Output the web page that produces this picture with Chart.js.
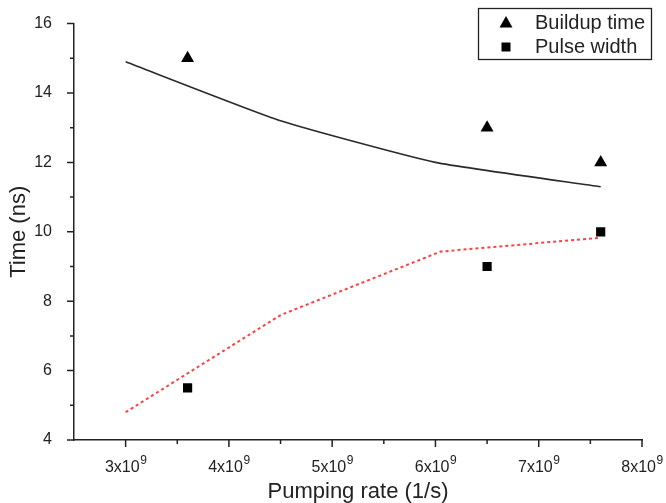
<!DOCTYPE html>
<html>
<head>
<meta charset="utf-8">
<script src="https://cdn.jsdelivr.net/npm/chart.js@4.4.1/dist/chart.umd.min.js"></script>
<style>
  html, body { margin: 0; padding: 0; background: #fff; }
  #wrap { width: 666px; height: 503px; }
</style>
</head>
<body>
<div id="wrap"><canvas id="timeChart" width="666" height="503"></canvas></div>
<script>
// measured points
const rateMeasured = [3.6e9, 6.5e9, 7.6e9];
const buildupTime = [15, 13, 12];
const pulseWidth = [5.5, 9, 10];

// calculated curves
const rateBuildupCalc = [3.0e9, 4.5e9, 6.0e9, 7.6e9];
const buildupCalc = [14.9, 13.2, 12.0, 11.3];
const rateWidthCalc = [3.0e9, 4.5e9, 6.05e9, 7.6e9];
const widthCalc = [4.8, 7.6, 9.43, 9.83];

// x tick labels: mantissa x 10^exponent
const xTickBase = ['3x10', '4x10', '5x10', '6x10', '7x10', '8x10'];
const xTickExp = ['9', '9', '9', '9', '9', '9'];

const ink = '#222';
const fontFamily = '"Liberation Sans", Arial, sans-serif';
const pair = (xs, ys) => xs.map((x, i) => ({ x: x, y: ys[i] }));

// draws major / minor ticks pointing outward, plus the x labels with superscripts
const tickPlugin = {
  id: 'originTicks',
  afterDraw(chart) {
    const ctx = chart.ctx;
    const xs = chart.scales.x, ys = chart.scales.y;
    ctx.save();
    ctx.strokeStyle = ink;
    ctx.lineWidth = 1.5;
    ctx.beginPath();
    for (let v = 3e9; v <= 8e9 + 1; v += 0.5e9) {
      const major = Math.abs(v / 1e9 - Math.round(v / 1e9)) < 1e-6;
      const px = xs.getPixelForValue(v);
      ctx.moveTo(px, xs.top);
      ctx.lineTo(px, xs.top + (major ? 7 : 4));
    }
    for (let v = 4; v <= 16; v += 1) {
      const major = v % 2 === 0;
      const py = ys.getPixelForValue(v);
      ctx.moveTo(ys.right, py);
      ctx.lineTo(ys.right - (major ? 7 : 4), py);
    }
    ctx.stroke();

    ctx.fillStyle = ink;
    ctx.textBaseline = 'alphabetic';
    ctx.textAlign = 'left';
    xTickBase.forEach((base, i) => {
      const px = xs.getPixelForValue((3 + i) * 1e9);
      ctx.font = '16px ' + fontFamily;
      const wb = ctx.measureText(base).width;
      ctx.font = '12px ' + fontFamily;
      const we = ctx.measureText(xTickExp[i]).width;
      const x0 = px - (wb + we) / 2;
      ctx.font = '16px ' + fontFamily;
      ctx.fillText(base, x0, xs.top + 32);
      ctx.font = '12px ' + fontFamily;
      ctx.fillText(xTickExp[i], x0 + wb + 0.5, xs.top + 24);
    });
    ctx.restore();
  }
};

// boxed legend in the upper right corner
const legendPlugin = {
  id: 'boxLegend',
  afterDraw(chart) {
    const ctx = chart.ctx;
    ctx.save();
    ctx.strokeStyle = ink;
    ctx.lineWidth = 1.3;
    ctx.strokeRect(478.5, 8.5, 173, 51);
    ctx.fillStyle = '#000';
    // triangle
    ctx.beginPath();
    ctx.moveTo(506, 16);
    ctx.lineTo(512.5, 27.5);
    ctx.lineTo(499.5, 27.5);
    ctx.closePath();
    ctx.fill();
    // square
    ctx.fillRect(501.5, 42.5, 9, 9);
    ctx.fillStyle = ink;
    ctx.font = '20px ' + fontFamily;
    ctx.textBaseline = 'middle';
    ctx.fillText(chart.data.datasets[0].label, 535, 23);
    ctx.fillText(chart.data.datasets[1].label, 535, 47);
    ctx.restore();
  }
};

const ctx = document.getElementById('timeChart').getContext('2d');
new Chart(ctx, {
  type: 'scatter',
  data: {
    datasets: [
      {
        label: 'Buildup time',
        data: pair(rateMeasured, buildupTime),
        pointStyle: 'triangle',
        pointRadius: 7.5,
        backgroundColor: '#000',
        borderColor: '#000',
        borderWidth: 0
      },
      {
        label: 'Pulse width',
        data: pair(rateMeasured, pulseWidth),
        pointStyle: 'rect',
        pointRadius: 6.5,
        backgroundColor: '#000',
        borderColor: '#000',
        borderWidth: 0
      },
      {
        label: 'Buildup time (calc)',
        type: 'line',
        data: pair(rateBuildupCalc, buildupCalc),
        borderColor: '#2a2a2a',
        borderWidth: 1.6,
        pointRadius: 0,
        tension: 0.15,
        fill: false
      },
      {
        label: 'Pulse width (calc)',
        type: 'line',
        data: pair(rateWidthCalc, widthCalc),
        borderColor: '#ff4040',
        borderWidth: 2,
        borderDash: [3, 3],
        pointRadius: 0,
        tension: 0,
        fill: false
      }
    ]
  },
  options: {
    responsive: false,
    animation: false,
    layout: { padding: { top: 20, right: 24, left: 0, bottom: 0 } },
    plugins: {
      legend: { display: false },
      tooltip: { enabled: false }
    },
    scales: {
      x: {
        type: 'linear',
        min: 2.5e9,
        max: 8e9,
        afterFit: s => { s.height = 63; },
        grid: { display: false },
        border: { display: true, color: ink, width: 1.5 },
        ticks: { display: false },
        title: {
          display: true,
          text: 'Pumping rate (1/s)',
          color: ink,
          padding: { top: 0, bottom: -2 },
          font: { family: fontFamily, size: 22 }
        }
      },
      y: {
        min: 4,
        max: 16,
        afterFit: s => { s.width = 74; },
        grid: { display: false },
        border: { display: true, color: ink, width: 1.5 },
        ticks: {
          stepSize: 2,
          color: ink,
          padding: 14,
          font: { family: fontFamily, size: 16 }
        },
        title: {
          display: true,
          text: 'Time (ns)',
          color: ink,
          padding: { top: 6, bottom: 0 },
          font: { family: fontFamily, size: 22 }
        }
      }
    }
  },
  plugins: [tickPlugin, legendPlugin]
});
</script>
</body>
</html>
